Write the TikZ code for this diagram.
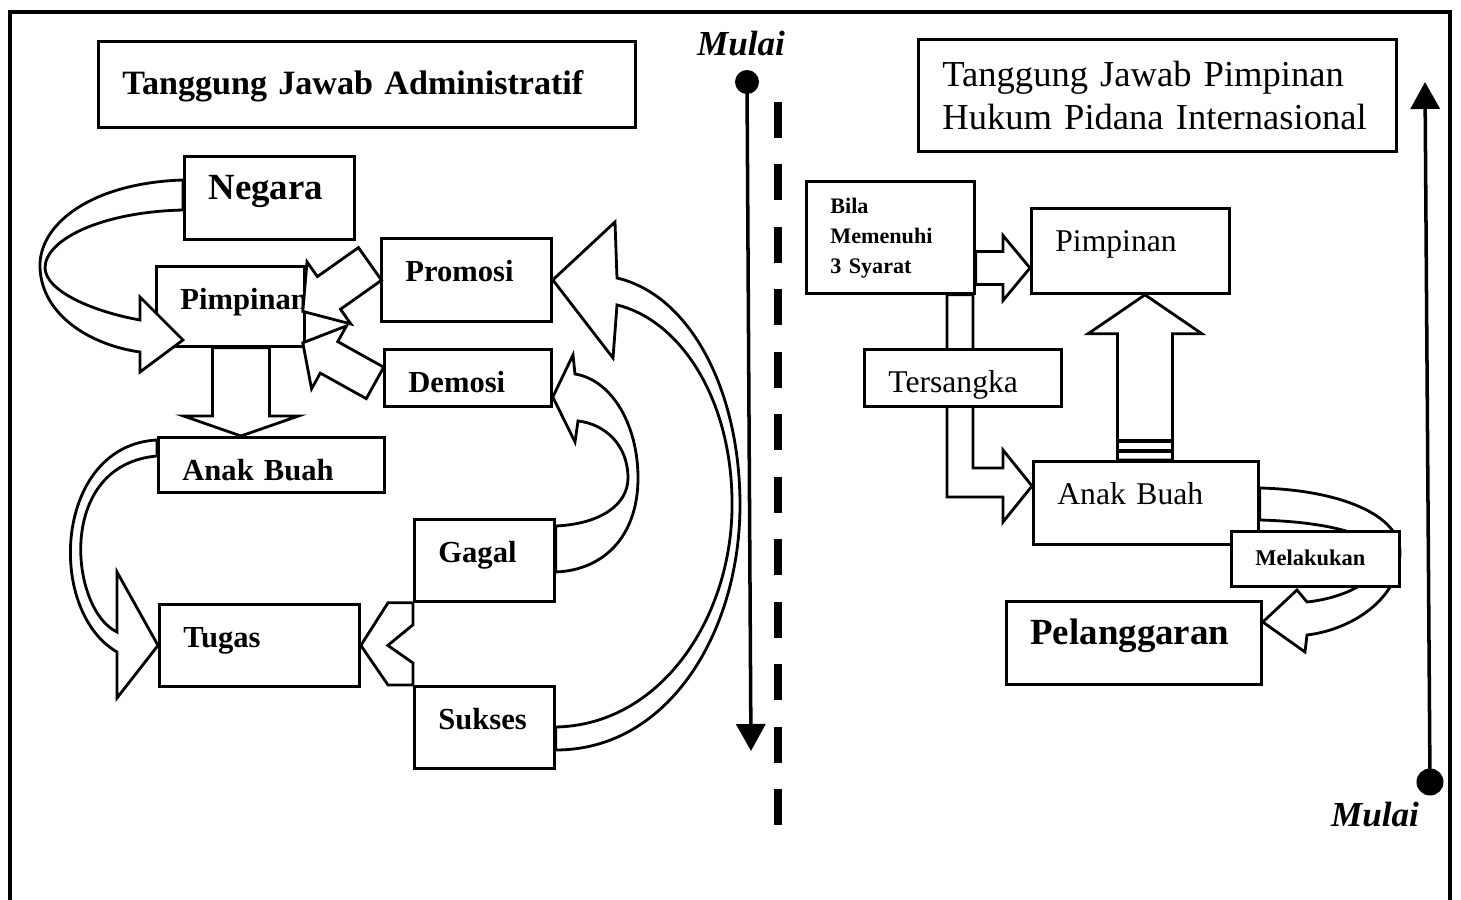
\documentclass[tikz,border=0pt]{standalone}
\usepackage{fontspec}
\setmainfont{Liberation Serif}
\usetikzlibrary{calc,arrows.meta}

% block arrow: tail, tip, shaft half width, head half width, head length
\newcommand\fatarrow[5]{%
  \path ($(#2)!#5!(#1)$) coordinate (fa-base);
  \draw[blockarrow] ($(#1)!#3!90:(#2)$) -- ($(fa-base)!#3!90:(#2)$)
    -- ($(fa-base)!#4!90:(#2)$) -- (#2) -- ($(fa-base)!#4!-90:(#2)$)
    -- ($(fa-base)!#3!-90:(#2)$) -- ($(#1)!#3!-90:(#2)$) -- cycle;}

\begin{document}
\begin{tikzpicture}[x=0.1mm,y=-0.1mm,
  box/.style={draw,line width=0.8pt,fill=white,anchor=north west,align=left,
    inner xsep=2.4mm,inner ysep=1.2mm,text height=3.1mm},
  lbl/.style={font=\fontsize{8.7}{10}\selectfont\bfseries},
  rlbl/.style={font=\fontsize{9}{11}\selectfont},
  blockarrow/.style={draw,fill=white,line width=0.8pt,line join=miter},
  flow/.style={line width=1pt,-{Triangle[length=2.7mm,width=2.9mm]}},
  startdot/.style={circle,fill,inner sep=0pt,minimum size=2.4mm},
  mulai/.style={font=\fontsize{10}{12}\selectfont\bfseries\itshape}]

\useasboundingbox (0,0) rectangle (1461,900);
\draw[line width=0.9pt] (10,900) -- (10,12) -- (1450,12) -- (1450,900);

\begin{scope}[every node/.style={box}]
    \node[font=\fontsize{9.7}{12}\selectfont\bfseries,text width=48.9mm,text height=4.1mm,text depth=2.1mm] (adminTitle) at (97,40) {Tanggung Jawab Administratif};
    \node[font=\fontsize{10.4}{12.2}\selectfont,text width=43mm,text height=3.5mm,text depth=5.3mm] (leaderTitle) at (917,38) {Tanggung Jawab Pimpinan\\Hukum Pidana Internasional};

    \node[font=\fontsize{10.5}{12}\selectfont\bfseries,text width=12.2mm,text depth=2.8mm] (negara) at (183,155) {Negara};
    \node[lbl,text width=10mm,text depth=2.5mm] (pimpL) at (155,265) {Pimpinan};
    \node[lbl,text width=12.2mm,text depth=2.8mm] (promosi) at (380,237) {Promosi};
    \node[lbl,text width=11.9mm,text depth=0.2mm] (demosi) at (383,348) {Demosi};
    \node[lbl,text width=17.8mm,text depth=0mm] (anakL) at (157,436) {Anak Buah};
    \node[lbl,text width=15.2mm,text depth=2.7mm] (tugas) at (158,603) {Tugas};
    \node[lbl,text width=9.2mm,text depth=2.7mm] (gagal) at (413,518) {Gagal};
    \node[lbl,text width=9.2mm,text depth=2.7mm] (sukses) at (413,685) {Sukses};

    \node[font=\fontsize{6.3}{8.5}\selectfont\bfseries,text width=12mm,text height=2mm,text depth=6.8mm] (bila) at (805,180) {Bila\\Memenuhi\\3 Syarat};
    \node[rlbl,text width=15mm,text depth=3mm] (pimpR) at (1030,207) {Pimpinan};
    \node[rlbl,text width=17.7mm,text depth=2.8mm] (anakR) at (1032,460) {Anak Buah};
    \node[font=\fontsize{10.5}{12}\selectfont\bfseries,text width=20.7mm,text depth=2.8mm] (pelanggaran) at (1005,600) {Pelanggaran};
\end{scope}

% left side
\draw[blockarrow] (negara.west |- 0,180) .. controls (90,183) and (38,225) .. (40,268)
    .. controls (42,315) and (90,345) .. (140,352) -- (140,372) -- (183,340) -- (140,297) -- (140,320)
    .. controls (95,312) and (46,292) .. (45,268) .. controls (45,240) and (100,212) .. (negara.west |- 0,210) -- cycle;

\coordinate (pimpOut) at (pimpL.south -| 241,0);
\coordinate (anakIn) at (anakL.north -| 241,0);
\fatarrow{pimpOut}{anakIn}{2.85mm}{5.75mm}{2mm}

\coordinate (promOut) at ($(promosi.west)+(-10,-16)$);
\coordinate (pimpInA) at ($(pimpL.east)+(-3,5)$);
\fatarrow{promOut}{pimpInA}{2mm}{3.8mm}{3.2mm}

\coordinate (demOut) at ($(demosi.west)+(-8,5)$);
\coordinate (pimpInB) at ($(pimpL.south east)+(-3,-5)$);
\fatarrow{demOut}{pimpInB}{1.8mm}{3.6mm}{3mm}

\draw[blockarrow] (anakL.west |- 0,440) .. controls (55,445) and (45,610) .. (117,652)
    -- (117,698) -- (tugas.west) -- (117,572) -- (117,632)
    .. controls (70,610) and (55,465) .. (anakL.west |- 0,456) -- cycle;

\draw[blockarrow] (gagal.east |- 0,526) .. controls (600,524) and (628,505) .. (628,478)
    .. controls (628,445) and (605,424) .. (578,421) -- (575,442) -- (demosi.east |- 0,397) -- (573,355) -- (575,374)
    .. controls (612,380) and (638,425) .. (638,478) .. controls (638,535) and (605,570) .. (gagal.east |- 0,572) -- cycle;

\draw[blockarrow] (sukses.east |- 0,727) .. controls (660,725) and (730,620) .. (732,510)
    .. controls (734,400) and (680,320) .. (617,305) -- (613,358) -- (promosi.east) -- (615,222) -- (617,278)
    .. controls (690,295) and (740,390) .. (740,505) .. controls (740,630) and (670,750) .. (sukses.east |- 0,750) -- cycle;

\draw[blockarrow] (gagal.south west) -- ++(-25,0) -- (tugas.east) -- ($(sukses.north west)+(-25,0)$)
    -- (sukses.north west) -- ++(0,-22) -- ($(tugas.east)+(27,0)$) -- ($(gagal.south west)+(0,22)$) -- cycle;

% start markers
\node[mulai] (mulaiL) at (741,44) {Mulai};
\node[startdot] (startL) at (747,82) {};
\coordinate (endL) at (751,751);
\draw[flow] (startL.center) -- (endL);

\draw[line width=2.3pt,dash pattern=on 3.6mm off 2.65mm] (778,102) -- (778,830);

\node[mulai] (mulaiR) at (1375,815) {Mulai};
\node[startdot,minimum size=2.7mm] (startR) at (1430,782) {};
\coordinate (endR) at (1425,82);
\draw[flow] (startR.center) -- (endR);

% right side
\coordinate (bilaOut) at (bila.east |- 0,268);
\coordinate (pimpRIn) at (pimpR.west |- 0,268);
\fatarrow{bilaOut}{pimpRIn}{1.65mm}{3.25mm}{2.7mm}

\draw[blockarrow] (bila.south -| 947,0) -- (947,497) -- (1003,497) -- (1003,522) -- (anakR.west |- 0,486)
    -- (1003,450) -- (1003,468) -- (973,468) -- (bila.south -| 973,0) -- cycle;
\node[box,rlbl,text width=14.9mm,text depth=0.2mm] (tersangka) at (863,348) {Tersangka};

\coordinate (anakROut) at (anakR.north -| 1145,0);
\coordinate (pimpRIn2) at (pimpR.south -| 1145,0);
\fatarrow{anakROut}{pimpRIn2}{2.75mm}{5.7mm}{3.9mm}
\draw[line width=1.2pt] ($(anakROut)+(-27,-19)$) -- ++(54,0) ($(anakROut)+(-27,-9)$) -- ++(54,0);

\draw[blockarrow] (anakR.east |- 0,488) .. controls (1340,490) and (1400,515) .. (1400,552)
    .. controls (1400,600) and (1350,630) .. (1307,635) -- (1305,652) -- (pelanggaran.east |- 0,622) -- (1297,590) -- (1307,602)
    .. controls (1345,598) and (1380,580) .. (1380,558) .. controls (1380,535) and (1330,522) .. (anakR.east |- 0,520) -- cycle;
\node[box,font=\fontsize{6.4}{8}\selectfont\bfseries,text width=12mm,text height=2.2mm,text depth=0.9mm] (melakukan) at (1230,530) {Melakukan};

\end{tikzpicture}
\end{document}
